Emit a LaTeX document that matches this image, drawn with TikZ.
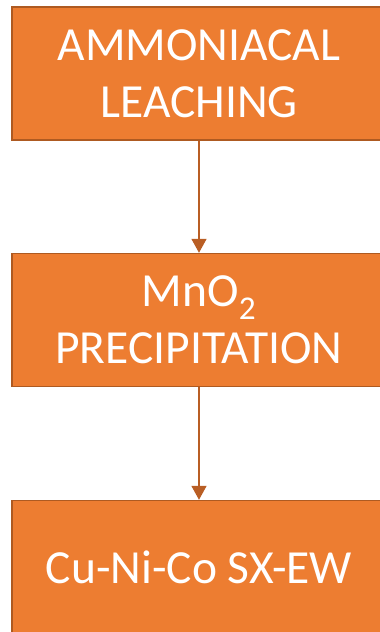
\documentclass[tikz,border=0pt]{standalone}
\usepackage{fontspec}
\setmainfont{Carlito}
\usetikzlibrary{arrows.meta}
\definecolor{boxfill}{HTML}{ED7D31}
\definecolor{boxedge}{HTML}{AE5A21}
\definecolor{flow}{HTML}{B95E24}
\begin{document}
\begin{tikzpicture}[x=1pt,y=1pt,
  stage/.style={draw=boxedge, line width=1.4pt, fill=boxfill,
    minimum width=374pt, minimum height=133pt, inner sep=0pt,
    text=white, align=center,
    font=\fontsize{47.5}{57}\selectfont},
  flowarrow/.style={draw=flow, line width=1.5pt,
    -{Triangle[width=15pt,length=14pt]}}]
\useasboundingbox (0,0) rectangle (380,632);
\clip (0,0) rectangle (380,632);
\node[stage] (leach) at (199,558.5) {AMMONIACAL\\LEACHING};
\node[stage] (mno2) at (199,312) {MnO\textsubscript{2}\\PRECIPITATION};
\node[stage] (sxew) at (199,65) {Cu-Ni-Co SX-EW};
\draw[flowarrow] (leach.south) -- (mno2.north);
\draw[flowarrow] (mno2.south) -- (sxew.north);
\end{tikzpicture}
\end{document}
